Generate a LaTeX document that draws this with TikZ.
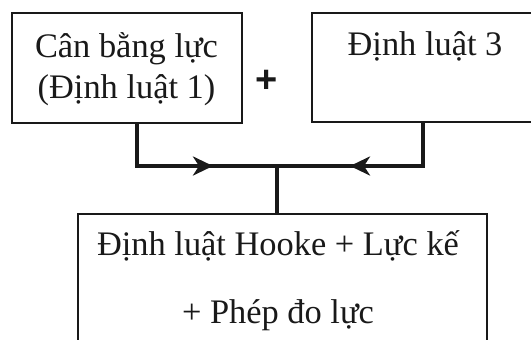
\documentclass[tikz,border=0pt]{standalone}
\usepackage{fontspec}
\setmainfont{Liberation Serif}
\newfontfamily\plusfont{Liberation Sans}
\usetikzlibrary{arrows.meta}
\begin{document}
\begin{tikzpicture}[x=1pt,y=1pt,
  box/.style={draw=black!90, line width=2.4pt, inner sep=0pt},
  txt/.style={anchor=base, inner sep=0pt, text=black!90, font=\fontsize{34.4}{41}\selectfont},
  conn/.style={draw=black!90, line width=4.3pt},
  tipstyle/.style={draw=black!90, line width=4.3pt, -{Stealth[length=20pt,width=19pt,inset=6pt]}}]
\useasboundingbox (0,0) rectangle (531,-340);
\clip (0,0) rectangle (531,-340);
% boxes
\node[box, minimum width=230pt, minimum height=110pt] (a) at (127,-68) {};
\node[box, minimum width=226pt, minimum height=109pt] (b) at (425,-67.5) {};
\node[box, minimum width=409pt, minimum height=157pt, anchor=north] (c) at (282.5,-213) {};
% texts
\node[txt] (a1) at (126.5,-57) {Cân bằng lực};
\node[txt] (a2) at (126.5,-98) {(Định luật 1)};
\node[txt] (b1) at (425,-55) {Định luật 3};
\node[txt] (c1) at (278,-255) {Định luật Hooke + Lực kế};
\node[txt] (c2) at (278,-323) {+ Phép đo lực};
\node[inner sep=0pt, text=black!90, font=\plusfont\bfseries\fontsize{38}{38}\selectfont] (plus) at (267,-81) {+};
% connectors
\coordinate (j) at (277,-166);
\coordinate (tl) at (213,-166);
\coordinate (tr) at (350,-166);
\draw[conn] ([xshift=10pt]a.south) |- (j);
\draw[conn] ([xshift=-2pt]b.south) |- (j);
\draw[conn] (j) -- (j |- c.north);
\draw[tipstyle] ([xshift=-2pt]tl) -- (tl);
\draw[tipstyle] ([xshift=2pt]tr) -- (tr);
\end{tikzpicture}
\end{document}
